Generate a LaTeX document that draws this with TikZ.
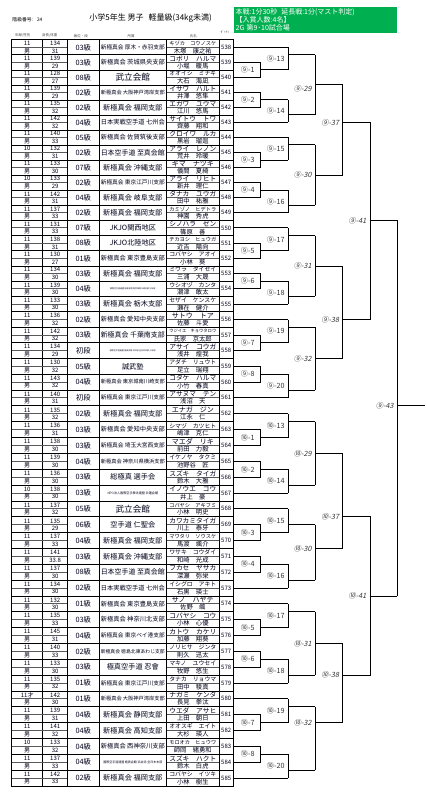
\documentclass[tikz,border=0pt]{standalone}
\usepackage{fontspec}
\setmainfont{Noto Sans CJK JP}
\newfontfamily\slantjp[FakeSlant=0.2]{Noto Sans CJK JP}
\usepackage{graphicx}
\usetikzlibrary{calc}
\definecolor{panelgreen}{RGB}{0,176,80}

\newsavebox\shrinkbox
\newcommand\shrinkto[2]{\sbox\shrinkbox{#2}\ifdim\wd\shrinkbox>#1\resizebox{#1}{!}{\usebox\shrinkbox}\else\usebox\shrinkbox\fi}
\newcommand\courtno[1]{\ifnum#1=9 ⑨\else ⑩\fi}

\tikzset{
  frame/.style={line width=0.7pt},
  halfline/.style={line width=1pt,black!65},
  bline/.style={line width=0.8pt},
  cell/.style={inner sep=0pt,font=\fontsize{6}{6}\selectfont,text=black!90!blue},
  hdr/.style={inner sep=0pt,font=\fontsize{3.5}{3.5}\selectfont,text=black!70},
  rnd/.style={anchor=east,inner sep=0pt,xshift=-3.5pt,font=\fontsize{7.2}{7.2}\selectfont,text=black!80},
  rndit/.style={rnd,font=\slantjp\fontsize{7.2}{7.2}\selectfont},
}

\begin{document}
\begin{tikzpicture}[x=1pt,y=-1pt]
\useasboundingbox (0,0) rectangle (427,794);

% heading
\node[anchor=west,inner sep=0pt,font=\fontsize{4.8}{4.8}\selectfont] (classno) at (12.3,19.3) {階級番号:\hspace{4pt}24};
\node[inner sep=0pt,font=\fontsize{8}{8}\selectfont] (title) at (150.6,18) {小学5年生 男子\hspace{5pt}軽量級(34kg未満)};
\node[fill=panelgreen,text=white,anchor=north west,inner xsep=2.2pt,inner ysep=0pt,
      text width=159pt,minimum height=25.4pt,align=left,font=\fontsize{7}{8.1}\selectfont] (rules) at (233.3,7.3)
  {本戦:1分30秒\hspace{4pt}延長戦:1分(マスト判定)\\【入賞人数:4名】\\2G 第9･10試合場};

% column heads
\node[hdr] (hage) at (22.8,35.7) {年齢/性別};
\node[hdr] (hbody) at (49.7,35.7) {身長/体重};
\node[hdr] (hgrade) at (80.8,35.7) {級位・段};
\node[hdr] (hdojo) at (131,35.7) {所属};
\node[hdr] (hname) at (193.3,35.7) {氏名};
\node[hdr] (hno) at (225,32.3) {ｾﾞｯｹﾝ};

% table
\draw[frame] (11.7,39.5) rectangle (233.3,786);
\foreach \x in {42.7,67.7,99,166.7,219}
  \draw[frame] (\x,39.5) -- (\x,786);
\foreach \x [count=\i from 0] in {233.3,260.7,288.3,315.3,342.7,370,397.3,425}
  \coordinate (c\i) at (\x,0);
\foreach \y [count=\i from 0] in {39.5,54.8,69.9,84.9,99.9,114.9,129.9,144.9,160.0,175.1,190.2,205.3,220.4,
    235.5,250.7,265.9,281.1,296.4,311.8,327.3,342.8,358.5,374.2,389.9,405.8,421.7,437.6,453.4,469.3,485.1,
    500.9,516.8,532.6,548.4,564.2,580.1,595.9,611.7,627.6,643.4,659.2,675.1,690.9,706.7,722.5,738.4,754.2,770.1,786.0}{
  \pgfmathtruncatemacro\k{2*\i}
  \coordinate (b\k) at (0,\y);
  \draw[frame] (11.7,\y) -- (233.3,\y);
}

% entries
\foreach \yc/\num/\age/\hgt/\wgt/\grade/\fs/\dojo/\kana/\kanji in {
  47.3/538/11/134/31/03級/7.2/新極真会 厚木・赤羽支部/キヅカ　コウノスケ/木塚　康之祐,
  62.3/539/11/139/29/03級/7.2/新極真会 茨城県央支部/コボリ　ハルマ/小堀　暖馬,
  77.4/540/11/128/27/08級/8.6/武立会館/オオイシ　ミナギ/大石　海凪,
  92.4/541/11/139/29/02級/7.2/新極真会 大阪神戸湾岸支部/イサワ　ハルト/井澤　悠隼,
  107.4/542/11/135/32/02級/7.2/新極真会 福岡支部/エガワ　ユウマ/江川　悠馬,
  122.4/543/11/142/32/04級/7.2/日本実戦空手道 七州会/サイトウ　トワ/齊藤　翔和,
  137.4/544/11/140/33/05級/7.2/新極真会 佐賀筑後支部/クロイワ　ルカ/黒岩　瑠迦,
  152.4/545/10/132/31/02級/7.2/日本空手道 至真会館/アライ　レノン/荒井　玲暖,
  167.5/546/11/133/30/07級/7.2/新極真会 沖縄支部/ギマ　ナツキ/儀間　夏綺,
  182.6/547/10/133/29/02級/7.2/新極真会 東京江戸川支部/アライ　リヒト/新井　理仁,
  197.7/548/11/142/31/04級/7.2/新極真会 岐阜支部/タナカ　ユウガ/田中　祐雅,
  212.8/549/11/137/33/02級/7.2/新極真会 福岡支部/カミゾノ　ヒデトラ/神園　秀虎,
  227.9/550/11/131/33/07級/7.2/JKJO関西地区/シノハラ　ゼン/篠原　善,
  243.1/551/11/138/31/08級/7.2/JKJO北陸地区/チカヨシ　ヒュウガ/近吉　陽向,
  258.3/552/11/130/27/01級/7.2/新極真会 東京豊島支部/コバヤシ　アオイ/小林　葵,
  273.5/553/11/134/30/03級/7.2/新極真会 福岡支部/ミウラ　タイセイ/三浦　大晟,
  288.7/554/11/139/30/04級/2/国際空手道連盟 極真会館 東京城南川崎支部 少年部/ウシオヅ　カンタ/潮津　敢太,
  304.0/555/11/133/30/03級/7.2/新極真会 栃木支部/セザイ　ケンスケ/瀬在　健介,
  319.5/556/11/136/32/02級/7.2/新極真会 愛知中央支部/サトウ　トア/佐藤　斗愛,
  335.0/557/11/142/32/03級/7.2/新極真会 千葉南支部/ウジイエ　キョウタロウ/氏家　京太郎,
  350.6/558/11/134/29/初段/2/国際空手道連盟 極真会館 浜井派 全日本本部 少年部/アサイ　コウガ/浅井　煌我,
  366.3/559/11/130/32/05級/7.2/誠武塾/アダチ　リュウト/足立　瑞翔,
  382.0/560/11/143/32/04級/7.2/新極真会 東京城南川崎支部/コタケ　ハルマ/小竹　春真,
  397.8/561/11/140/31/初段/7.2/新極真会 東京江戸川支部/アサヌマ　テン/浅沼　天,
  413.7/562/11/135/32/02級/7.2/新極真会 福岡支部/エナガ　ジン/江永　仁,
  429.6/563/11/136/31/03級/7.2/新極真会 愛知中央支部/シマヅ　カツヒト/嶋津　克仁,
  445.5/564/11/138/30/03級/7.2/新極真会 埼玉大宮西支部/マエダ　リキ/前田　力毅,
  461.3/565/11/139/30/04級/7.2/新極真会 神奈川県横浜支部/イケノヤ　タクミ/池野谷　匠,
  477.2/566/11/136/30/03級/7.2/総極真 選手会/スズキ　タイガ/鈴木　大雅,
  493.0/567/10/138/30/03級/3.1/NPO法人国際空手拳法連盟 白蓮会館/イノウエ　ゴウ/井上　豪,
  508.8/568/11/137/32/05級/8.6/武立会館/コバヤシ　アキフミ/小林　明史,
  524.7/569/11/135/29/06級/7.2/空手道 仁聖会/カワカミタイガ/川上　泰牙,
  540.5/570/11/137/33/04級/7.2/新極真会 福岡支部/マワタリ　ソウスケ/馬渡　颯介,
  556.3/571/11/141/33.8/03級/7.2/新極真会 沖縄支部/ワサキ　コウダイ/和崎　光成,
  572.1/572/11/137/30/08級/7.2/日本空手道 至真会館/フカセ　ヤサカ/深瀬　弥栄,
  588.0/573/11/134/30/02級/7.2/日本実戦空手道 七州会/イシグロ　アキト/石黒　瑛士,
  603.8/574/11/132/30/01級/7.2/新極真会 東京豊島支部/サノ　ハヤテ/佐野　颯,
  619.6/575/11/135/33/03級/7.2/新極真会 神奈川北支部/コバヤシ　コウ/小林　心優,
  635.5/576/11/145/31/04級/7.2/新極真会 東京ベイ港支部/カトウ　カケリ/加藤　翔葵,
  651.3/577/11/140/33/02級/7.2/新極真会 徳島北東あわじ支部/ノリヒサ　ジンタ/則久　迅太,
  667.1/578/11/133/30/03級/7.2/極真空手道 忍會/マキノ　ユウセイ/牧野　悠生,
  683.0/579/11/135/32/01級/7.2/新極真会 東京江戸川支部/タナカ　リョウマ/田中　稜真,
  698.8/580/11才/142/30/01級/7.2/新極真会 大阪神戸湾岸支部/ナガミ　ケンタ/長見　拳汰,
  714.6/581/11/139/31/04級/7.2/新極真会 静岡支部/ウエダ　アサヒ/上田　朝日,
  730.4/582/11/141/32/04級/7.2/新極真会 高知支部/オオスギ　エイト/大杉　瑛人,
  746.3/583/10/133/32/04級/7.2/新極真会 西神奈川支部/モロオカ　ヒュウワ/師岡　緒勇和,
  762.1/584/11/137/33/04級/3/国際空手道連盟 極真会館 浜井派 全日本本部/スズキ　ハクト/鈴木　白虎,
  778.0/585/11/142/33/02級/7.2/新極真会 福岡支部/コバヤシ　イツキ/小林　樹生}{
  \pgfmathtruncatemacro\k{2*(\num-538)+1}
  \pgfmathtruncatemacro\m{mod(\num-538,6)}
  \coordinate (b\k) at (0,\yc);
  \draw[halfline] (12.2,\yc) -- (67.2,\yc) (167.2,\yc) -- (218.5,\yc);
  \node[cell] (age\num) at (27.2,\yc-3.8) {\age};
  \node[cell] (sex\num) at (27.2,\yc+3.8) {男};
  \node[cell] (hgt\num) at (55.2,\yc-3.8) {\hgt};
  \node[cell] (wgt\num) at (55.2,\yc+3.8) {\wgt};
  \node[cell,font=\fontsize{7.3}{7.3}\selectfont] (grade\num) at (83.3,\yc) {\grade};
  \node[cell] (dojo\num) at (132.8,\yc) {\fontsize{\fs}{\fs}\selectfont\shrinkto{64pt}{\dojo}};
  \node[cell,font=\fontsize{7}{7}\selectfont] (kana\num) at (192.8,\yc-3.8) {\shrinkto{47pt}{\kana}};
  \node[cell,font=\fontsize{6.3}{6.3}\selectfont] (kanji\num) at (192.8,\yc+3.8) {\shrinkto{47pt}{\kanji}};
  \node[cell] (no\num) at (226.2,\yc) {\num};
  \ifnum\m=0 \def\tgt{c2}\else\ifnum\m=5 \def\tgt{c2}\else\def\tgt{c1}\fi\fi
  \draw[bline] (c0 |- b\k) -- (\tgt |- b\k);
}

% first round
\foreach \bt/\bb/\bo/\ct/\mn in {3/5/4/9/1,7/9/8/9/2,15/17/16/9/3,19/21/20/9/4,27/29/28/9/5,31/33/32/9/6,
    39/41/40/9/7,43/45/44/9/8,51/53/52/10/1,55/57/56/10/2,63/65/64/10/3,67/69/68/10/4,75/77/76/10/5,
    79/81/80/10/6,87/89/88/10/7,91/93/92/10/8}{
  \draw[bline] (c1 |- b\bt) -- (c1 |- b\bb) (c1 |- b\bo) -- (c2 |- b\bo);
  \node[rnd,xshift=-2.5pt] (m\ct-\mn) at (c1 |- b\bo) {\courtno{\ct}-\mn};
}
% second round
\foreach \bt/\bb/\bo/\ct/\mn in {1/4/2/9/13,8/11/10/9/14,13/16/14/9/15,20/23/22/9/16,25/28/26/9/17,
    32/35/34/9/18,37/40/38/9/19,44/47/46/9/20,49/52/50/10/13,56/59/58/10/14,61/64/63/10/15,68/71/70/10/16,
    73/76/74/10/17,80/83/82/10/18,85/88/86/10/19,92/95/94/10/20}{
  \draw[bline] (c2 |- b\bt) -- (c2 |- b\bb) (c2 |- b\bo) -- (c3 |- b\bo);
  \node[rnd] (m\ct-\mn) at ($(c2 |- b\bt)!.5!(c2 |- b\bb)$) {\courtno{\ct}-\mn};
}
% third round
\foreach \bt/\bb/\bo/\la/\lb/\ct/\mn in {2/10/6/6/7/9/29,14/22/18/18/18/9/30,26/34/30/30/30/9/31,
    38/46/42/42/42/9/32,50/58/54/54/54/10/29,63/70/66/66/66/10/30,74/82/78/78/78/10/31,86/94/88/88/88/10/32}{
  \draw[bline] (c3 |- b\bt) -- (c3 |- b\bb) (c3 |- b\bo) -- (c4 |- b\bo);
  \node[rndit] (m\ct-\mn) at ($(c3 |- b\la)!.5!(c3 |- b\lb)$) {\courtno{\ct}-\mn};
}
% fourth round
\foreach \bt/\bb/\bo/\ct/\mn in {6/18/11/9/37,30/42/37/9/38,54/66/62/10/37,78/88/82/10/38}{
  \draw[bline] (c4 |- b\bt) -- (c4 |- b\bb) (c4 |- b\bo) -- ([xshift=1.2pt]c5 |- b\bo);
  \node[rndit] (m\ct-\mn) at (c4 |- b\bo) {\courtno{\ct}-\mn};
}
% semi final and final
\foreach \bt/\bb/\bo/\ct/\mn in {11/37/24/9/41,62/82/72/10/41}{
  \draw[bline] (c5 |- b\bt) -- (c5 |- b\bb) (c5 |- b\bo) -- (c6 |- b\bo);
  \node[rndit] (m\ct-\mn) at (c5 |- b\bo) {\courtno{\ct}-\mn};
}
\draw[bline] (c6 |- b24) -- (c6 |- b72) (c6 |- b48) -- (c7 |- b48);
\node[rndit] (m9-43) at (c6 |- b48) {⑨-43};
\end{tikzpicture}
\end{document}
